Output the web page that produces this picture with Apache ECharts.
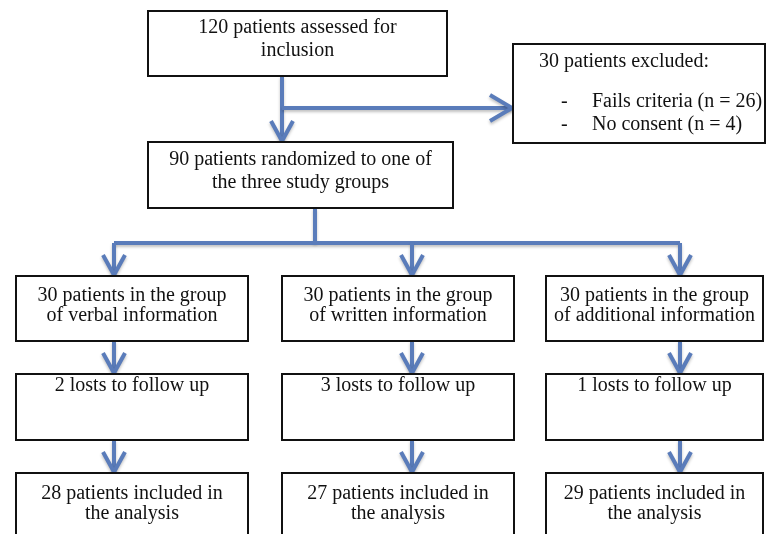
<!DOCTYPE html>
<html><head><meta charset="utf-8">
<script src="https://cdn.jsdelivr.net/npm/echarts@6/dist/echarts.min.js"></script>
<style>html,body{margin:0;padding:0;background:#fff}#c{width:766px;height:534px}</style>
</head><body><div id="c"></div>
<script>
// ---- content (texts) ----
var screeningText = ["120 patients assessed for", "inclusion"];
var randomizedText = ["90 patients randomized to one of", "the three study groups"];
var excludedTitle = "30 patients excluded:";
var excludedReasons = ["Fails criteria (n = 26)", "No consent (n = 4)"];
var groupText = [
  ["30 patients in the group", "of verbal information"],
  ["30 patients in the group", "of written information"],
  ["30 patients in the group", "of additional information"]
];
var lostText = [["2 losts to follow up"], ["3 losts to follow up"], ["1 losts to follow up"]];
var analysedText = [
  ["28 patients included in", "the analysis"],
  ["27 patients included in", "the analysis"],
  ["29 patients included in", "the analysis"]
];

// ---- layout (pixel-space coordinates on hidden axes) ----
var colX = [[16, 248], [282, 514], [546, 763]];
var colMid = [114, 412, 680];
var boxes = [
  {r: [148, 11, 447, 76], lines: screeningText, ty: [28, 51]},
  {r: [148, 142, 453, 208], lines: randomizedText, ty: [160, 183]},
  {r: [513, 44, 765, 143], excluded: true}
];
for (var i = 0; i < 3; i++) {
  boxes.push({r: [colX[i][0], 276, colX[i][1], 341], lines: groupText[i], ty: [296, 316]});
  boxes.push({r: [colX[i][0], 374, colX[i][1], 440], lines: lostText[i], ty: [386]});
  boxes.push({r: [colX[i][0], 473, colX[i][1], 545], lines: analysedText[i], ty: [494, 514]});
}
var connectors = [
  {pts: [[282, 76], [282, 141]], head: 'down'},
  {pts: [[282, 108], [512, 108]], head: 'right'},
  {pts: [[315, 208], [315, 243]], head: null},
  {pts: [[114, 243], [680, 243]], head: null}
];
colMid.forEach(function (x) {
  connectors.push({pts: [[x, 243], [x, 275]], head: 'down'});
  connectors.push({pts: [[x, 341], [x, 373]], head: 'down'});
  connectors.push({pts: [[x, 440], [x, 472]], head: 'down'});
});

var FONT = '"Liberation Serif", "Times New Roman", serif';
var BLUE = '#5a7cba';

var chart = echarts.init(document.getElementById('c'));
chart.setOption({
  animation: false,
  grid: {left: 0, right: 0, top: 0, bottom: 0},
  xAxis: {type: 'value', min: 0, max: 766, show: false},
  yAxis: {type: 'value', min: 0, max: 534, inverse: true, show: false},
  series: [
    {
      type: 'custom',
      coordinateSystem: 'cartesian2d',
      data: connectors.map(function (c, i) { return [i]; }),
      z: 2,
      renderItem: function (params, api) {
        var c = connectors[api.value(0)];
        var pts = c.pts.map(function (p) { return api.coord(p); });
        var children = [{
          type: 'polyline',
          shape: {points: pts},
          style: {stroke: BLUE, lineWidth: 4, fill: null, lineCap: 'butt',
                  shadowBlur: 3, shadowColor: 'rgba(0,0,0,0.25)', shadowOffsetY: 2}
        }];
        var end = pts[pts.length - 1];
        var head = null;
        if (c.head === 'down') head = [[end[0] - 11, end[1] - 20], end, [end[0] + 11, end[1] - 20]];
        if (c.head === 'right') head = [[end[0] - 22, end[1] - 13], end, [end[0] - 22, end[1] + 13]];
        if (head) children.push({
          type: 'polyline',
          shape: {points: head},
          style: {stroke: BLUE, lineWidth: 4, fill: null, lineJoin: 'miter',
                  shadowBlur: 3, shadowColor: 'rgba(0,0,0,0.25)', shadowOffsetY: 2}
        });
        return {type: 'group', children: children};
      }
    },
    {
      type: 'custom',
      coordinateSystem: 'cartesian2d',
      data: boxes.map(function (b, i) { return [i]; }),
      z: 3,
      renderItem: function (params, api) {
        var b = boxes[api.value(0)];
        var p0 = api.coord([b.r[0], b.r[1]]);
        var p1 = api.coord([b.r[2], b.r[3]]);
        var children = [{
          type: 'rect',
          shape: {x: p0[0], y: p0[1], width: p1[0] - p0[0], height: p1[1] - p0[1]},
          style: {fill: '#fff', stroke: '#111', lineWidth: 2}
        }];
        var cx = (p0[0] + p1[0]) / 2;
        if (b.excluded) {
          children.push({type: 'text', x: api.coord([539, 0])[0], y: api.coord([0, 62])[1],
            style: {text: excludedTitle, font: '20px ' + FONT, fill: '#111', textAlign: 'left', textVerticalAlign: 'middle'}});
          excludedReasons.forEach(function (t, k) {
            var y = api.coord([0, [102, 125][k]])[1];
            children.push({type: 'text', x: api.coord([561, 0])[0], y: y,
              style: {text: '-', font: '20px ' + FONT, fill: '#111', textAlign: 'left', textVerticalAlign: 'middle'}});
            children.push({type: 'text', x: api.coord([592, 0])[0], y: y,
              style: {text: t, font: '20px ' + FONT, fill: '#111', textAlign: 'left', textVerticalAlign: 'middle'}});
          });
        } else {
          b.lines.forEach(function (t, k) {
            children.push({type: 'text', x: cx, y: api.coord([0, b.ty[k]])[1],
              style: {text: t, font: '20px ' + FONT, fill: '#111', textAlign: 'center', textVerticalAlign: 'middle'}});
          });
        }
        return {type: 'group', children: children};
      }
    }
  ]
});
</script></body></html>
